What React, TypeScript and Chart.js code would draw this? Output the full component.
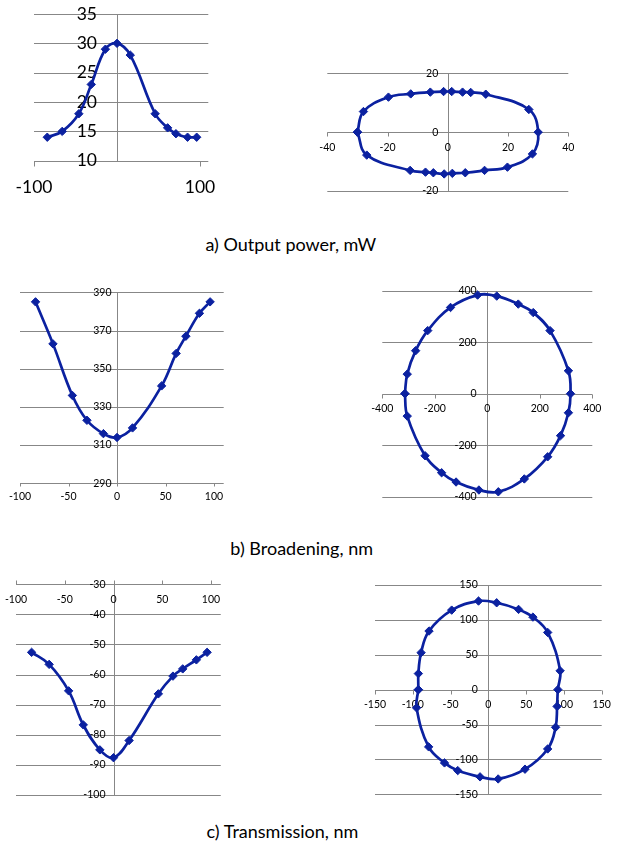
import React, { useEffect, useRef } from 'react';
import { Chart, registerables } from 'chart.js';

Chart.register(...registerables);

// ---------- data ----------
// angle positions (deg) shared by the three left-hand panels
const angles = [-84, -66, -46, -31, -14, 0, 16, 46, 61, 71, 85, 96];
const outputPower = [14, 15, 18, 23, 29, 30, 28, 18, 15.6, 14.6, 14, 14];
const broadening = [385, 363, 336, 323, 316, 314, 319, 341, 358, 367, 379, 385];
const transmission = [-52.6, -56.6, -65.4, -76.7, -85, -87.6, -81.9, -66.4, -60.5, -58.1, -55.1, -52.6];

// closed loops (right-hand panels)
const powerLoopX = [-30, -28, -19.7, -12.3, -5.8, -1.4, 1.3, 4.9, 7.6, 12.6, 26.9, 30, 28.1, 19.8, 12.2, 5.8, 1.5, -1.2, -4.8, -7.4, -12.5, -26.9, -30];
const powerLoopY = [0, 7, 11.9, 13, 13.6, 13.8, 13.8, 13.6, 13.5, 12.9, 7.7, 0, -7.4, -11.9, -13, -13.8, -14, -14.2, -13.8, -13.6, -13, -7.8, 0];

const broadLoopX = [-314, -305, -273, -227, -140, -37, 36, 118, 175, 239, 309, 317, 309, 279, 230, 141, 42, -32, -119, -174, -237, -305, -314];
const broadLoopY = [0, 76, 167, 245, 335, 383, 379, 348, 315, 245, 89, 0, -74, -163, -245, -331, -381, -374, -343, -307, -241, -87, 0];

const transLoopX = [-92.6, -92.6, -89, -78.5, -48.5, -13, 11, 40, 59, 78.5, 95, 92, 91, 89, 78.5, 48.5, 13, -11, -40.5, -58, -79, -95, -92.6];
const transLoopY = [0, 23, 53, 84, 114, 127, 124.5, 115, 104, 82, 27, 0, -24, -54, -85, -114, -128, -125, -116, -105, -82, -26, 0];

// ---------- tick labels ----------
const powerXTicks = [-100, 100];
const powerYTicks = [10, 15, 20, 25, 30, 35];
const powerLoopXTicks = [-40, -20, 0, 20, 40];
const powerLoopYTicks = [-20, 0, 20];
const broadXTicks = [-100, -50, 0, 50, 100];
const broadYTicks = [290, 310, 330, 350, 370, 390];
const broadLoopXTicks = [-400, -200, 0, 200, 400];
const broadLoopYTicks = [-400, -200, 0, 200, 400];
const transXTicks = [-100, -50, 0, 50, 100];
const transYTicks = [-100, -90, -80, -70, -60, -50, -40, -30];
const transLoopXTicks = [-150, -100, -50, 0, 50, 100, 150];
const transLoopYTicks = [-150, -100, -50, 0, 50, 100, 150];

const captions = ['a) Output power, mW', 'b) Broadening, nm', 'c) Transmission, nm'];

// ---------- styles ----------
const BLUE = '#0B21A0';
const GRID = '#878787';
const FONT = 'Lato, "Open Sans", sans-serif';

type PanelSpec = {
  box: [number, number, number, number];
  area: [number, number, number, number];
  xRange: [number, number];
  yRange: [number, number];
  xTicks: number[];
  yTicks: number[];
  xs: number[];
  ys: number[];
  xAxisAt: number;
  font: number;
  yGap: number;
  xDy: number;
  tick: number;
};

const panels: PanelSpec[] = [
  {
    box: [0, 0, 250, 215], area: [34, 208.3, 14, 160.7], xRange: [-100, 110], yRange: [10, 35],
    xTicks: powerXTicks, yTicks: powerYTicks, xs: angles, ys: outputPower,
    xAxisAt: 10, font: 17.5, yGap: 20, xDy: 26.3, tick: 5,
  },
  {
    box: [300, 50, 300, 160], area: [327.3, 568.3, 73.3, 191], xRange: [-40, 40], yRange: [-20, 20],
    xTicks: powerLoopXTicks, yTicks: powerLoopYTicks, xs: powerLoopX, ys: powerLoopY,
    xAxisAt: 0, font: 10.5, yGap: 9.5, xDy: 15, tick: 4,
  },
  {
    box: [0, 275, 250, 240], area: [20, 223.7, 292.3, 483.3], xRange: [-100, 110], yRange: [290, 390],
    xTicks: broadXTicks, yTicks: broadYTicks, xs: angles, ys: broadening,
    xAxisAt: 290, font: 10.5, yGap: 5.5, xDy: 13.7, tick: 3,
  },
  {
    box: [350, 275, 268, 240], area: [382.3, 592.3, 290.7, 496.7], xRange: [-400, 400], yRange: [-400, 400],
    xTicks: broadLoopXTicks, yTicks: broadLoopYTicks, xs: broadLoopX, ys: broadLoopY,
    xAxisAt: 0, font: 10.5, yGap: 10.6, xDy: 14.6, tick: 4,
  },
  {
    box: [0, 570, 250, 240], area: [16, 220.75, 584.3, 795], xRange: [-100, 110], yRange: [-100, -30],
    xTicks: transXTicks, yTicks: transYTicks, xs: angles, ys: transmission,
    xAxisAt: -30, font: 10.5, yGap: 8, xDy: 15.7, tick: -4,
  },
  {
    box: [350, 570, 268, 240], area: [375, 601.7, 585, 794.3], xRange: [-150, 150], yRange: [-150, 150],
    xTicks: transLoopXTicks, yTicks: transLoopYTicks, xs: transLoopX, ys: transLoopY,
    xAxisAt: 0, font: 10.5, yGap: 10.6, xDy: 15, tick: 4,
  },
];

function Panel({ spec }: { spec: PanelSpec }) {
  const ref = useRef<HTMLCanvasElement>(null);
  const [l, t, w, h] = spec.box;
  useEffect(() => {
    const [x0, x1, y0, y1] = spec.area;
    const axesPlugin = {
      id: 'excelAxes',
      beforeDatasetsDraw(chart: any) {
        const { ctx, chartArea: ca } = chart;
        const sx = chart.scales.x;
        const sy = chart.scales.y;
        const snap = (v: number) => Math.round(v) + 0.5;
        ctx.save();
        ctx.strokeStyle = GRID;
        ctx.lineWidth = 1;
        ctx.beginPath();
        for (const v of spec.yTicks) {
          const py = snap(sy.getPixelForValue(v));
          ctx.moveTo(ca.left, py);
          ctx.lineTo(ca.right, py);
        }
        const ax = snap(sx.getPixelForValue(0));
        ctx.moveTo(ax, snap(sy.getPixelForValue(spec.yRange[1])));
        ctx.lineTo(ax, snap(sy.getPixelForValue(spec.yRange[0])));
        const ay = snap(sy.getPixelForValue(spec.xAxisAt));
        for (const v of spec.xTicks) {
          const px = snap(sx.getPixelForValue(v));
          ctx.moveTo(px, ay);
          ctx.lineTo(px, ay + spec.tick);
        }
        ctx.stroke();

        ctx.fillStyle = '#000';
        ctx.font = `${spec.font}px ${FONT}`;
        ctx.textAlign = 'right';
        ctx.textBaseline = 'middle';
        const axRaw = sx.getPixelForValue(0);
        for (const v of spec.yTicks) {
          ctx.fillText(String(v), axRaw - spec.yGap, sy.getPixelForValue(v));
        }
        ctx.textAlign = 'center';
        const ayRaw = sy.getPixelForValue(spec.xAxisAt);
        for (const v of spec.xTicks) {
          ctx.fillText(String(v), sx.getPixelForValue(v), ayRaw + spec.xDy);
        }
        ctx.restore();
      },
    };
    const chart = new Chart(ref.current as HTMLCanvasElement, {
      type: 'scatter',
      data: {
        datasets: [
          {
            data: spec.xs.map((x, i) => ({ x, y: spec.ys[i] })),
            showLine: true,
            borderColor: BLUE,
            backgroundColor: BLUE,
            borderWidth: 2.7,
            tension: 0.4,
            pointStyle: 'rectRot',
            pointRadius: 4.2,
            pointBorderWidth: 1,
            pointBorderColor: BLUE,
            pointBackgroundColor: BLUE,
            clip: false,
          } as any,
        ],
      },
      options: {
        animation: false,
        responsive: false,
        maintainAspectRatio: false,
        events: [],
        layout: { padding: { left: x0 - l, right: l + w - x1, top: y0 - t, bottom: t + h - y1 } },
        scales: {
          x: { type: 'linear', min: spec.xRange[0], max: spec.xRange[1], display: false },
          y: { type: 'linear', min: spec.yRange[0], max: spec.yRange[1], display: false },
        },
        plugins: { legend: { display: false }, tooltip: { enabled: false } },
      },
      plugins: [axesPlugin],
    });
    return () => chart.destroy();
  }, [spec]);
  return (
    <canvas
      ref={ref}
      width={w}
      height={h}
      style={{ position: 'absolute', left: l, top: t, width: w, height: h }}
    />
  );
}

const captionPos: [number, number][] = [
  [290.8, 234],
  [301.7, 537.5],
  [282.5, 821],
];

export default function App() {
  return (
    <div style={{ position: 'absolute', left: 0, top: 0, width: 618, height: 842, background: '#fff', overflow: 'hidden' }}>
      {panels.map((p, i) => (
        <Panel key={i} spec={p} />
      ))}
      {captions.map((c, i) => (
        <span
          key={c}
          style={{
            position: 'absolute',
            left: captionPos[i][0],
            top: captionPos[i][1],
            transform: 'translateX(-50%)',
            fontFamily: FONT,
            fontSize: 18,
            lineHeight: '20px',
            whiteSpace: 'nowrap',
            color: '#000',
          }}
        >
          {c}
        </span>
      ))}
    </div>
  );
}
